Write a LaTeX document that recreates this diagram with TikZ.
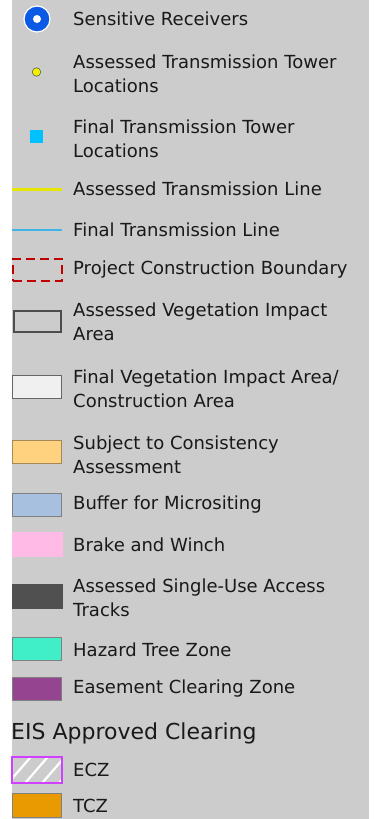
\documentclass[tikz,border=0pt]{standalone}
\usepackage{fontspec}
\setmainfont{DejaVu Sans}
\usepackage{tikz}
\usetikzlibrary{positioning}

\definecolor{legendbg}{HTML}{CCCCCC}
\definecolor{receiverblue}{HTML}{0A5AE6}
\definecolor{toweryellow}{HTML}{F0F000}
\definecolor{towercyan}{HTML}{00C0FF}
\definecolor{lineyellow}{HTML}{E6E600}
\definecolor{lineblue}{HTML}{40B4E6}
\definecolor{boundaryred}{HTML}{C00000}
\definecolor{vegdark}{HTML}{4D4D4D}
\definecolor{finalveg}{HTML}{F0F0F0}
\definecolor{consistency}{HTML}{FFD280}
\definecolor{microsite}{HTML}{A8C0E0}
\definecolor{brakewinch}{HTML}{FFBBE6}
\definecolor{accesstrack}{HTML}{505050}
\definecolor{hazardtree}{HTML}{40EEC8}
\definecolor{easement}{HTML}{95458F}
\definecolor{eczborder}{HTML}{D040FF}
\definecolor{tczorange}{HTML}{E89A00}
\definecolor{swatchedge}{HTML}{808080}

\begin{document}
\begin{tikzpicture}[x=1pt,y=-1pt,
    swatch/.style={minimum width=49pt,minimum height=23pt,inner sep=0pt,draw=swatchedge,line width=0.8pt},
    lbl/.style={anchor=west,align=left,inner sep=0pt,text=black!90,font=\fontsize{18}{23.5}\selectfont},
    head/.style={anchor=west,inner sep=0pt,text=black!90,font=\fontsize{22}{26}\selectfont}]
\useasboundingbox (0,0) rectangle (379,819);
\fill[legendbg] (12,0) rectangle (369,819);

% point symbols
\node[circle,fill=receiverblue,draw=white,line width=1.2pt,minimum size=26pt,inner sep=0pt] (recv) at (37,19) {};
\node[circle,fill=white,minimum size=8pt,inner sep=0pt] at (recv) {};
\node[lbl] (recvtxt) at (73,19) {Sensitive Receivers};

\node[circle,fill=toweryellow,draw=black!70,line width=0.5pt,minimum size=8.5pt,inner sep=0pt] (atower) at (36.5,72) {};
\node[lbl] (atowertxt) at (73,74) {Assessed Transmission Tower\\Locations};

\node[fill=towercyan,minimum size=13pt,inner sep=0pt] (ftower) at (36.5,136.5) {};
\node[lbl] (ftowertxt) at (73,139) {Final Transmission Tower\\Locations};

% lines
\coordinate (aline0) at (12,189);
\coordinate (aline1) at (62,189);
\draw[lineyellow,line width=3pt] (aline0) -- (aline1);
\node[lbl] (alinetxt) at (73,189) {Assessed Transmission Line};

\coordinate (fline0) at (12,230);
\coordinate (fline1) at (62,230);
\draw[lineblue,line width=1.8pt] (fline0) -- (fline1);
\node[lbl] (flinetxt) at (73,230) {Final Transmission Line};

% areas
\node[swatch,draw=boundaryred,line width=2pt,dash pattern=on 9pt off 5pt,minimum height=22pt] (pcb) at (37,269.5) {};
\node[lbl] (pcbtxt) at (73,270) {Project Construction Boundary};

\node[swatch,draw=vegdark,line width=2pt,minimum width=47pt,minimum height=21pt] (aveg) at (37.5,321.5) {};
\node[lbl] (avegtxt) at (73,322) {Assessed Vegetation Impact\\Area};

\node[swatch,fill=finalveg,draw=black!60] (fveg) at (37,387) {};
\node[lbl] (fvegtxt) at (73,389) {Final Vegetation Impact Area/\\Construction Area};

\node[swatch,fill=consistency,draw=black!35!consistency] (cons) at (37,452) {};
\node[lbl] (constxt) at (73,455) {Subject to Consistency\\Assessment};

\node[swatch,fill=microsite] (micro) at (37,505) {};
\node[lbl] (microtxt) at (73,505) {Buffer for Micrositing};

\node[swatch,fill=brakewinch,draw=none,minimum width=51pt,minimum height=25pt] (bw) at (37,544.5) {};
\node[lbl] (bwtxt) at (73,545) {Brake and Winch};

\node[swatch,fill=accesstrack,draw=none,minimum width=51pt,minimum height=25pt] (track) at (37,596.5) {};
\node[lbl] (tracktxt) at (73,598) {Assessed Single-Use Access\\Tracks};

\node[swatch,fill=hazardtree] (hazard) at (37,649) {};
\node[lbl] (hazardtxt) at (73,650) {Hazard Tree Zone};

\node[swatch,fill=easement] (ecz0) at (37,689) {};
\node[lbl] (ecz0txt) at (73,689) {Easement Clearing Zone};

% EIS approved clearing
\node[head] (eis) at (11,733) {EIS Approved Clearing};

\node[swatch,draw=none,minimum height=25pt] (ecz) at (37,770) {};
\begin{scope}
  \clip (ecz.south west) rectangle (ecz.north east);
  \foreach \s in {0,17,34,51}
    \draw[white,line width=2.2pt] (ecz.north west) ++(\s-4,26) -- ++(26,-30);
\end{scope}
\draw[eczborder,line width=1.5pt] (ecz.south west) rectangle (ecz.north east);
\node[lbl] (ecztxt) at (73,770) {ECZ};

\node[swatch,fill=tczorange,minimum height=24pt] (tcz) at (37,805) {};
\node[lbl] (tcztxt) at (73,806) {TCZ};
\end{tikzpicture}
\end{document}
